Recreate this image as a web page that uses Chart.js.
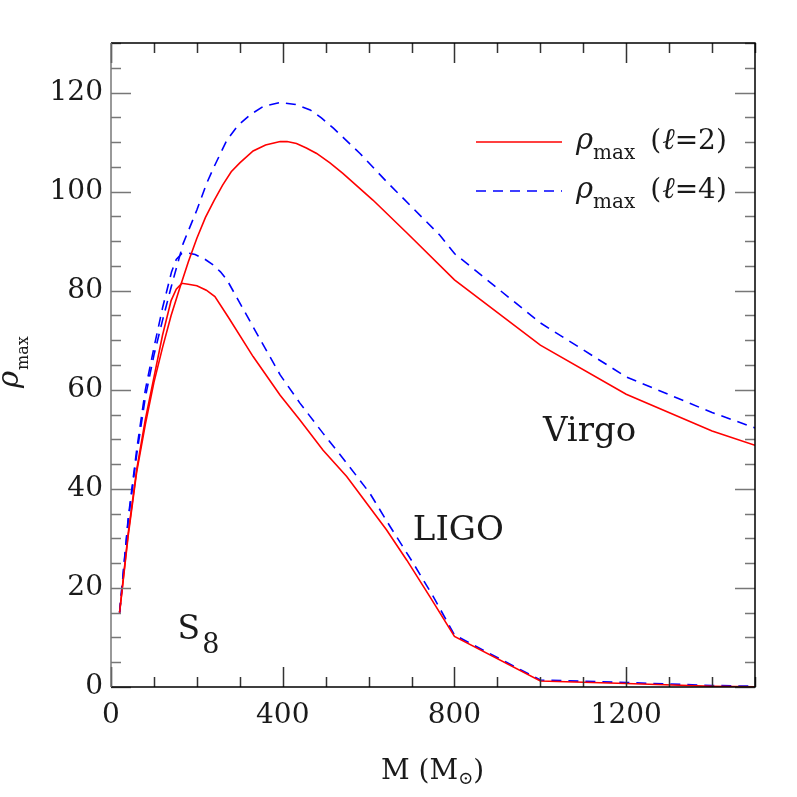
<!DOCTYPE html>
<html>
<head>
<meta charset="utf-8">
<script src="https://cdn.jsdelivr.net/npm/chart.js@4.4.1/dist/chart.umd.min.js"></script>
<style>
html,body{margin:0;padding:0;background:#fff;}
#wrap{width:797px;height:797px;}
</style>
</head>
<body>
<div id="wrap"><canvas id="c" width="797" height="797"></canvas></div>
<script>
// ---- data (M in solar masses, rho_max) ----
const virgoL2M   = [20,40,60,80,100,120,140,160,180,200,220,240,260,280,300,331,360,394,410,432,455,479,510,540,610,690,800,1000,1200,1400,1500];
const virgoL2Rho = [15,30.5,43.5,53,61.5,68.5,75,80.5,85.8,90.6,94.8,98.2,101.3,104,105.8,108.2,109.4,110.1,110.1,109.7,108.8,107.7,105.8,103.7,98.3,91.6,82.2,69,59.1,51.7,48.8];

const virgoL4M   = [20,40,60,80,100,120,140,168,200,223,240,270,295,324,355,394,430,464,490,518,580,642,704,766,800,1000,1200,1400,1500];
const virgoL4Rho = [15,33.5,47,58.5,67,74,80.7,89.5,96.3,101.7,105,110.4,113.3,115.5,117.2,118,117.6,116.5,114.9,112.8,107.7,102,96.6,91.2,87.5,73.5,62.6,55.4,52.3];

const ligoL2M   = [20,40,60,80,100,120,140,152,165,180,200,222,242,273,331,394,440,494,549,599,642,689,743,800,1000,1200,1400,1500];
const ligoL2Rho = [15,31,44,54,62.5,71,78,80.3,81.5,81.3,81,80.1,78.8,74.7,66.7,58.9,53.9,47.8,42.5,36.7,31.7,25.6,18.2,10.2,1.2,0.7,0.15,0.05];

const ligoL4M   = [20,40,60,80,100,120,141,152,165,180,196,218,238,255,270,331,394,440,494,549,603,650,704,751,800,1000,1200,1400,1500];
const ligoL4Rho = [15,34,48,60,68.5,76.5,83.8,86.3,87.5,87.6,87.3,86.4,85.2,83.8,82.2,72.7,63,57.3,51.2,45.2,39.1,32.4,25,18.2,10.5,1.4,0.9,0.3,0.15];

const xTicks = [0,400,800,1200];
const yTicks = [0,20,40,60,80,100,120];

const toPts = (xs, ys) => xs.map((x, i) => ({x: x, y: ys[i]}));

const RED = '#ff0000', BLUE = '#0000ff';
const DASH = [10,7];
const SERIF = '"DejaVu Serif", "Liberation Serif", serif';

function drawSubText(ctx, x, y, parts) {
  let cx = x;
  for (const p of parts) {
    ctx.font = p.font;
    ctx.fillText(p.t, cx, y + (p.dy || 0));
    cx += ctx.measureText(p.t).width + (p.gap || 0);
  }
}

const overlay = {
  id: 'overlay',
  afterDatasetsDraw(chart) {
    const ctx = chart.ctx;
    const a = chart.chartArea;
    const xs = chart.scales.x, ys = chart.scales.y;
    ctx.save();
    ctx.lineWidth = 1.5;
    for (let v = 0; v <= 1500; v += 100) {
      const px = Math.round(xs.getPixelForValue(v)) + 0.5;
      const len = (v % 400 === 0) ? 20 : 10;
      ctx.strokeStyle = '#333';
      ctx.beginPath();
      ctx.moveTo(px, a.bottom); ctx.lineTo(px, a.bottom - len);
      ctx.moveTo(px, a.top); ctx.lineTo(px, a.top + len);
      ctx.stroke();
    }
    for (let v = 0; v <= 130; v += 5) {
      const py = Math.round(ys.getPixelForValue(v)) + 0.5;
      const len = (v % 20 === 0) ? 20 : 10;
      ctx.strokeStyle = '#777';
      ctx.beginPath();
      ctx.moveTo(a.left, py); ctx.lineTo(a.left + len, py);
      ctx.moveTo(a.right, py); ctx.lineTo(a.right - len, py);
      ctx.stroke();
    }
    ctx.lineWidth = 1.5;
    ctx.strokeStyle = '#000';
    ctx.beginPath();
    ctx.moveTo(a.left, a.top); ctx.lineTo(a.right, a.top);
    ctx.lineTo(a.right, a.bottom); ctx.lineTo(a.left, a.bottom);
    ctx.stroke();
    ctx.strokeStyle = '#777';
    ctx.beginPath();
    ctx.moveTo(a.left, a.top); ctx.lineTo(a.left, a.bottom);
    ctx.stroke();

    // legend
    ctx.fillStyle = '#1a1a1a';
    ctx.textBaseline = 'alphabetic';
    const legendRows = [
      {ds: chart.data.datasets[0], y: a.top + 99, label: '(\u2113=2)'},
      {ds: chart.data.datasets[1], y: a.top + 148, label: '(\u2113=4)'}
    ];
    for (const r of legendRows) {
      ctx.strokeStyle = r.ds.borderColor;
      ctx.lineWidth = 1.6;
      ctx.setLineDash(r.ds.borderDash || []);
      ctx.beginPath();
      ctx.moveTo(476, r.y); ctx.lineTo(562, r.y);
      ctx.stroke();
      ctx.setLineDash([]);
      drawSubText(ctx, 576, r.y + 7, [
        {t: '\u03C1', font: 'italic 29px ' + SERIF, gap: 0},
        {t: 'max', font: '20px ' + SERIF, dy: 10, gap: 15},
        {t: '(', font: '28px ' + SERIF, gap: 1},
        {t: '\u2113', font: 'italic 30px ' + SERIF, gap: 0},
        {t: r.label.slice(2), font: '28px ' + SERIF}
      ]);
    }

    // annotations (data coordinates)
    ctx.font = '34px ' + SERIF;
    ctx.fillText('Virgo', xs.getPixelForValue(1006), ys.getPixelForValue(49.7));
    ctx.fillText('LIGO', xs.getPixelForValue(703), ys.getPixelForValue(29.7));
    drawSubText(ctx, xs.getPixelForValue(155), ys.getPixelForValue(9.7), [
      {t: 'S', font: '33px ' + SERIF, gap: 2},
      {t: '8', font: '27px ' + SERIF, dy: 14}
    ]);

    // x axis title
    drawSubText(ctx, 381, 779, [
      {t: 'M (M', font: '28px ' + SERIF},
      {t: '\u2299', font: '18px ' + SERIF, dy: 5},
      {t: ')', font: '28px ' + SERIF}
    ]);

    // y axis title (rotated)
    ctx.save();
    ctx.translate(18, 388);
    ctx.rotate(-Math.PI / 2);
    drawSubText(ctx, 0, 0, [
      {t: '\u03C1', font: 'italic 29px ' + SERIF, gap: 1},
      {t: 'max', font: '16px ' + SERIF, dy: 10}
    ]);
    ctx.restore();
    ctx.restore();
  }
};

const common = {pointRadius: 0, borderWidth: 1.6, tension: 0, fill: false};

new Chart(document.getElementById('c'), {
  type: 'line',
  data: {
    datasets: [
      Object.assign({label: '\u03C1max (\u2113=2)', data: toPts(virgoL2M, virgoL2Rho), borderColor: RED}, common),
      Object.assign({label: '\u03C1max (\u2113=4)', data: toPts(virgoL4M, virgoL4Rho), borderColor: BLUE, borderDash: DASH}, common),
      Object.assign({label: 'LIGO l=2', data: toPts(ligoL2M, ligoL2Rho), borderColor: RED}, common),
      Object.assign({label: 'LIGO l=4', data: toPts(ligoL4M, ligoL4Rho), borderColor: BLUE, borderDash: DASH}, common)
    ]
  },
  plugins: [overlay],
  options: {
    responsive: false,
    animation: false,
    devicePixelRatio: 1,
    layout: {padding: {top: 43, right: 42, left: 0, bottom: 0}},
    plugins: {legend: {display: false}, tooltip: {enabled: false}},
    scales: {
      x: {
        type: 'linear', min: 0, max: 1500,
        grid: {display: false, drawTicks: false},
        border: {display: false},
        afterFit: s => { s.height = 110; },
        afterBuildTicks: s => { s.ticks = xTicks.map(v => ({value: v})); },
        ticks: {color: '#1a1a1a', padding: 12, maxRotation: 0, font: {family: SERIF, size: 28},
                callback: v => String(v)}
      },
      y: {
        type: 'linear', min: 0, max: 130,
        grid: {display: false, drawTicks: false},
        border: {display: false},
        afterFit: s => { s.width = 111; },
        afterBuildTicks: s => { s.ticks = yTicks.map(v => ({value: v})); },
        ticks: {color: '#1a1a1a', padding: 8, font: {family: SERIF, size: 28},
                callback: v => String(v)}
      }
    }
  }
});
</script>
</body>
</html>
